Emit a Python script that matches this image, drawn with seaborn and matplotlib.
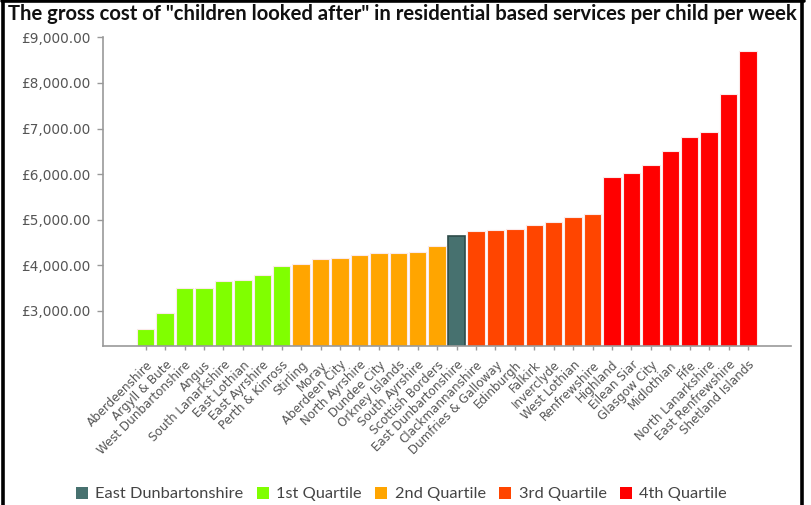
import matplotlib
matplotlib.use("Agg")
import matplotlib.pyplot as plt
from matplotlib.patches import Patch
from matplotlib.lines import Line2D
import seaborn as sns
import pandas as pd

councils = [
    "Aberdeenshire", "Argyll & Bute", "West Dunbartonshire", "Angus",
    "South Lanarkshire", "East Lothian", "East Ayrshire", "Perth & Kinross",
    "Stirling", "Moray", "Aberdeen City", "North Ayrshire", "Dundee City",
    "Orkney Islands", "South Ayrshire", "Scottish Borders",
    "East Dunbartonshire",
    "Clackmannanshire", "Dumfries & Galloway", "Edinburgh", "Falkirk",
    "Inverclyde", "West Lothian", "Renfrewshire",
    "Highland", "Eilean Siar", "Glasgow City", "Midlothian", "Fife",
    "North Lanarkshire", "East Renfrewshire", "Shetland Islands",
]
weekly_cost = [
    2605, 2950, 3510, 3505, 3650, 3680, 3782, 3987,
    4023, 4133, 4162, 4228, 4265, 4262, 4301, 4433,
    4637,
    4747, 4784, 4786, 4886, 4959, 5061, 5135,
    5931, 6034, 6202, 6516, 6823, 6925, 7759, 8694,
]
groups = (["1st Quartile"] * 8 + ["2nd Quartile"] * 8 + ["East Dunbartonshire"]
          + ["3rd Quartile"] * 7 + ["4th Quartile"] * 8)
group_order = ["East Dunbartonshire", "1st Quartile", "2nd Quartile",
               "3rd Quartile", "4th Quartile"]
group_colors = ["#47716f", "#80ff00", "#ffa500", "#ff4500", "#ff0000"]
y_ticks = [3000, 4000, 5000, 6000, 7000, 8000, 9000]
title = 'The gross cost of "children looked after" in residential based services per child per week'

df = pd.DataFrame({"council": councils, "cost": weekly_cost, "group": groups})
palette = dict(zip(group_order, group_colors))

sns.set_style("white")
fig = plt.figure(figsize=(8.11, 5.05), dpi=100)
ax = fig.add_axes([0.127, 0.315, 0.848, 0.611])

sns.barplot(data=df, x="council", y="cost", hue="group", hue_order=group_order,
            palette=palette, dodge=False, width=0.9, saturation=1,
            edgecolor="#fbeaea", linewidth=0.8, legend=False, ax=ax)

# darker outline on the highlighted council
highlight = weekly_cost[councils.index("East Dunbartonshire")]
for patch in ax.patches:
    if abs(patch.get_height() - highlight) < 0.5:
        patch.set_edgecolor("#2e4b49")
        patch.set_linewidth(1.2)

ax.set_xlim(-2.2, len(councils) - 1 + 2.2)
ax.set_ylim(2232, 9000)
ax.set_yticks(y_ticks)
ax.set_yticklabels([f"£{v:,.2f}" for v in y_ticks], color="#555555",
                   fontsize=9.8, family="DejaVu Sans")
ax.set_xticks(range(len(councils)))
ax.set_xticklabels(councils, rotation=45, ha="right", va="top",
                   rotation_mode="anchor", color="#555555", fontsize=8.6,
                   family="DejaVu Sans")
ax.tick_params(axis="y", length=4, width=1, color="#999999", pad=5, left=True)
ax.tick_params(axis="x", length=3, width=1, color="#999999", pad=6, bottom=True)
ax.set_xlabel("")
ax.set_ylabel("")
for side in ("top", "right"):
    ax.spines[side].set_visible(False)
for side in ("left", "bottom"):
    ax.spines[side].set_color("#999999")
    ax.spines[side].set_linewidth(1.2)

renderer = fig.canvas.get_renderer()


def fit_width(artist, target_px, size):
    artist.set_fontsize(size)
    w = artist.get_window_extent(renderer).width
    artist.set_fontsize(size * target_px / w)


title_txt = fig.text(8 / 811, 1 - 14 / 505, title, ha="left", va="center",
                     fontweight="bold", family=["Lato", "DejaVu Sans"],
                     color="#111111")
fit_width(title_txt, 785, 12)

handles = [Patch(facecolor=c, edgecolor="none") for c in group_colors]
leg = fig.legend(handles, group_order, loc="center", bbox_to_anchor=(0.495, 0.022),
                 ncol=5, frameon=False, handlelength=0.75, handleheight=0.75,
                 handletextpad=0.45, columnspacing=0.8,
                 prop={"family": ["Lato", "DejaVu Sans"], "size": 11.8},
                 labelcolor="#444444")

# outer frame
frame_kw = dict(transform=fig.transFigure, color="black", linewidth=2.6)
fig.add_artist(Line2D([3.3 / 811, 3.3 / 811], [0, 1], **frame_kw))
fig.add_artist(Line2D([2 / 811, 803.5 / 811], [1 - 1.2 / 505, 1 - 1.2 / 505], **frame_kw))
fig.add_artist(Line2D([802.3 / 811, 802.3 / 811], [0, 1], **frame_kw))

fig.savefig("out.png", dpi=100)
